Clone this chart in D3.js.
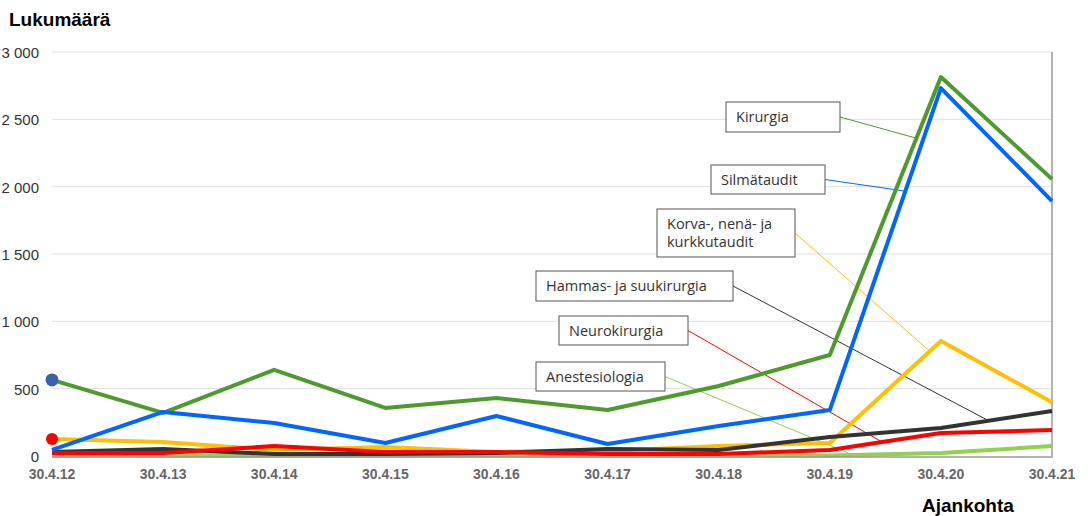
<!DOCTYPE html>
<html>
<head>
<meta charset="utf-8">
<script src="https://cdn.jsdelivr.net/npm/d3@7"></script>
<style>
  body { margin: 0; background: #fff; }
  svg { display: block; }
</style>
</head>
<body>
<svg id="chart" width="1088" height="516"></svg>
<script>
// aikapisteet (x-akseli)
var ajankohdat = ["30.4.12","30.4.13","30.4.14","30.4.15","30.4.16","30.4.17","30.4.18","30.4.19","30.4.20","30.4.21"];
var yTicks = [0, 500, 1000, 1500, 2000, 2500, 3000];

// sarjat
var kirurgia      = [565, 320, 640, 357, 430, 342, 520, 750, 2814, 2056];
var silmataudit   = [45, 327, 245, 97, 297, 89, 223, 341, 2732, 1893];
var korva         = [126, 104, 45, 67, 30, 37, 74, 97, 854, 400];
var hammas        = [30, 52, 15, 15, 22, 52, 45, 141, 208, 334];
var neuro         = [22, 22, 74, 30, 30, 15, 15, 45, 171, 193];
var anestesio     = [3, 3, 3, 3, 3, 3, 3, 3, 22, 74];

// piirtojärjestys: alimmainen ensin
var sarjat = [
  {nimi: "Anestesiologia", arvot: anestesio, vari: "#92d050"},
  {nimi: "Korva-, nenä- ja kurkkutaudit", arvot: korva, vari: "#ffc000"},
  {nimi: "Hammas- ja suukirurgia", arvot: hammas, vari: "#333333"},
  {nimi: "Neurokirurgia", arvot: neuro, vari: "#ff0000"},
  {nimi: "Kirurgia", arvot: kirurgia, vari: "#4e9a2c"},
  {nimi: "Silmätaudit", arvot: silmataudit, vari: "#0066ff"}
];

// selitelaatikot: rivit, laatikon paikka ja mihin kohtaan (murtoindeksi) viiva osoittaa
var selitteet = [
  {sarja: "Kirurgia", rivit: ["Kirurgia"], x: 726, y: 102, w: 114, h: 30, t: 7.78},
  {sarja: "Silmätaudit", rivit: ["Silmätaudit"], x: 711, y: 165, w: 114, h: 29, t: 7.68},
  {sarja: "Korva-, nenä- ja kurkkutaudit", rivit: ["Korva-, nenä- ja", "kurkkutaudit"], x: 657, y: 209, w: 138, h: 48, t: 7.9},
  {sarja: "Hammas- ja suukirurgia", rivit: ["Hammas- ja suukirurgia"], x: 536, y: 271, w: 197, h: 30, t: 8.43},
  {sarja: "Neurokirurgia", rivit: ["Neurokirurgia"], x: 559, y: 316, w: 129, h: 29, t: 7.47},
  {sarja: "Anestesiologia", rivit: ["Anestesiologia"], x: 536, y: 362, w: 129, h: 29, t: 7.21}
];

var svg = d3.select("#chart");

var x = d3.scalePoint().domain(ajankohdat).range([52, 1052]);
var y = d3.scaleLinear().domain([0, 3000]).range([456, 52]);

// apufunktio: arvo murtoindeksissä
function arvoKohdassa(arvot, t) {
  var i = Math.floor(t), f = t - i;
  return arvot[i] + f * (arvot[i + 1] - arvot[i]);
}
function xKohdassa(t) {
  var i = Math.floor(t), f = t - i;
  return x(ajankohdat[i]) + f * (x(ajankohdat[i + 1]) - x(ajankohdat[i]));
}

// ruudukko
svg.append("g")
  .selectAll("line")
  .data(yTicks.filter(d => d > 0))
  .enter().append("line")
  .attr("x1", 52).attr("x2", 1052)
  .attr("y1", d => y(d)).attr("y2", d => y(d))
  .attr("stroke", "#e0e0e0").attr("stroke-width", 1);

// y-akselin luvut
svg.append("g")
  .selectAll("text")
  .data(yTicks)
  .enter().append("text")
  .attr("x", 39).attr("y", d => y(d) + 6)
  .attr("text-anchor", "end")
  .attr("font-family", "Liberation Sans, Arial, sans-serif")
  .attr("font-size", 15)
  .attr("fill", "#333")
  .text(d => d3.format(",")(d).replace(/,/g, " "));

// x-akselin luvut
svg.append("g")
  .selectAll("text")
  .data(ajankohdat)
  .enter().append("text")
  .attr("x", d => x(d)).attr("y", 479)
  .attr("text-anchor", "middle")
  .attr("font-family", "Liberation Sans, Arial, sans-serif")
  .attr("font-size", 14)
  .attr("font-weight", "bold")
  .attr("fill", "#666")
  .text(d => d);

// oikea reuna
svg.append("line")
  .attr("x1", 1052).attr("x2", 1052).attr("y1", y(3000)).attr("y2", y(0))
  .attr("stroke", "#999").attr("stroke-width", 1.5);

// selitteiden viivat
var sarjaMap = new Map(sarjat.map(s => [s.nimi, s]));
svg.append("g")
  .selectAll("line")
  .data(selitteet)
  .enter().append("line")
  .attr("x1", d => d.x + d.w)
  .attr("y1", d => d.y + d.h / 2)
  .attr("x2", d => xKohdassa(d.t))
  .attr("y2", d => y(arvoKohdassa(sarjaMap.get(d.sarja).arvot, d.t)))
  .attr("stroke", d => sarjaMap.get(d.sarja).vari)
  .attr("stroke-width", 1);

// viivat
var viiva = d3.line()
  .x((d, i) => x(ajankohdat[i]))
  .y(d => y(d));

svg.append("g")
  .selectAll("path")
  .data(sarjat)
  .enter().append("path")
  .attr("d", d => viiva(d.arvot))
  .attr("fill", "none")
  .attr("stroke", d => d.vari)
  .attr("stroke-width", 4)
  .attr("stroke-linejoin", "round");

// pohja
svg.append("line")
  .attr("x1", 52).attr("x2", 1053).attr("y1", y(0) + 1).attr("y2", y(0) + 1)
  .attr("stroke", "#999").attr("stroke-width", 1.5);

// pisteet vasemmalla
svg.append("circle")
  .attr("cx", x(ajankohdat[0])).attr("cy", y(kirurgia[0]))
  .attr("r", 6.5).attr("fill", "#3a5fad");
svg.append("circle")
  .attr("cx", x(ajankohdat[0])).attr("cy", y(korva[0]))
  .attr("r", 6).attr("fill", "#ff0000");

// selitelaatikot
var laatikot = svg.append("g")
  .selectAll("g")
  .data(selitteet)
  .enter().append("g");

laatikot.append("rect")
  .attr("x", d => d.x).attr("y", d => d.y)
  .attr("width", d => d.w).attr("height", d => d.h)
  .attr("fill", "#fff")
  .attr("stroke", "#555").attr("stroke-width", 1);

laatikot.each(function(d) {
  var g = d3.select(this);
  d.rivit.forEach((r, i) => {
    g.append("text")
      .attr("x", d.x + 10)
      .attr("y", d.y + 20 + i * 18)
      .attr("font-family", "Open Sans, Noto Sans, sans-serif")
      .attr("font-size", 14.5)
      .attr("fill", "#333")
      .text(r);
  });
});

// akselien otsikot
svg.append("text")
  .attr("x", 9).attr("y", 26)
  .attr("font-family", "Liberation Sans, Arial, sans-serif")
  .attr("font-size", 19).attr("font-weight", "bold")
  .attr("fill", "#000")
  .text("Lukumäärä");

svg.append("text")
  .attr("x", 922).attr("y", 512)
  .attr("font-family", "Liberation Sans, Arial, sans-serif")
  .attr("font-size", 19).attr("font-weight", "bold")
  .attr("fill", "#000")
  .text("Ajankohta");
</script>
</body>
</html>
